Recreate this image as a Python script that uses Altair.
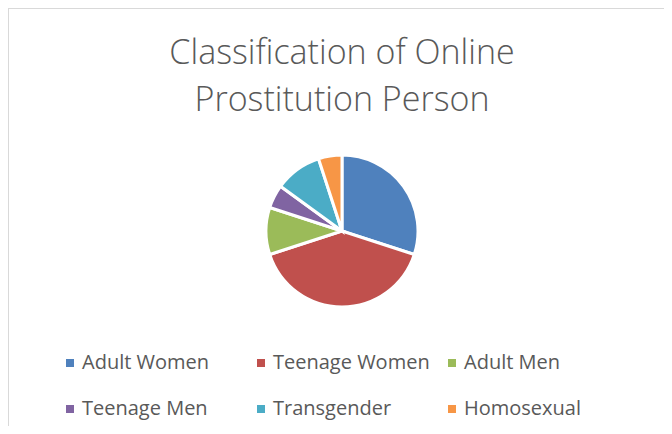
import altair as alt
import pandas as pd

categories = ["Adult Women", "Teenage Women", "Adult Men", "Teenage Men", "Transgender", "Homosexual"]
values = [30, 40, 10, 5, 10, 5]
colors = ["#4F81BD", "#C0504D", "#9BBB59", "#8064A2", "#4BACC6", "#F79646"]

df = pd.DataFrame({"category": categories, "value": values, "order": list(range(len(categories)))})

pie = alt.Chart(df).mark_arc(
    radius=76, stroke="white", strokeWidth=3
).encode(
    theta=alt.Theta("value:Q", stack=True),
    order=alt.Order("order:Q"),
    color=alt.Color(
        "category:N",
        sort=categories,
        scale=alt.Scale(domain=categories, range=colors),
        legend=alt.Legend(
            title=None, orient="none", legendX=52, legendY=345, direction="horizontal",
            columns=3, gridAlign="all", columnPadding=12, rowPadding=26,
            symbolType="square", symbolSize=64, symbolStrokeWidth=0,
            labelFont="Open Sans", labelFontSize=20, labelColor="#595959",
            labelLimit=300, labelOffset=2,
        ),
    ),
    x=alt.value(334),
    y=alt.value(223),
)

left_border = alt.Chart(df).mark_rule(color="#d9d9d9", strokeWidth=1.5).encode(
    x=alt.value(0), y=alt.value(0), y2=alt.value(418)
)
top_border = alt.Chart(df).mark_rule(color="#d9d9d9", strokeWidth=1.5).encode(
    x=alt.value(0), x2=alt.value(656), y=alt.value(0)
)

chart = alt.layer(left_border, top_border, pie).properties(
    width=656, height=418,
    padding=0,
    autosize=alt.AutoSizeParams(type="none"),
    title=alt.TitleParams(
        text=["Classification of Online", "Prostitution Person"],
        font="Open Sans", fontSize=34, fontWeight=300, color="#595959",
        anchor="middle", lineHeight=47, offset=-111, baseline="top", dx=6,
    ),
).configure_view(stroke=None)

chart.save("out.html", embed_options={"renderer": "svg", "actions": False})
